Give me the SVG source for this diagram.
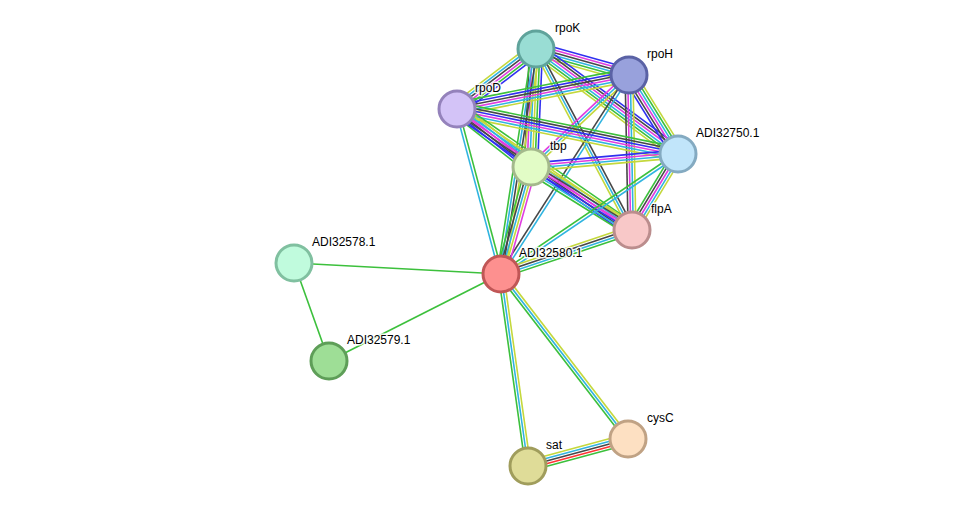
<svg xmlns="http://www.w3.org/2000/svg" width="976" height="512" viewBox="0 0 976 512">
<style>
line{stroke-width:1.6;fill:none}
.g{stroke:#3cc03c}.c{stroke:#30b4e0}.y{stroke:#c4d83c}.k{stroke:#474747}.m{stroke:#e03ce0}.b{stroke:#3030f0}.r{stroke:#ff3333}
.node circle{stroke-width:3}
text{font-family:"Liberation Sans",Arial,sans-serif;font-size:12px;fill:#000;stroke:#fff;stroke-width:3px;stroke-opacity:0.85;paint-order:stroke;stroke-linejoin:round}
</style>
<rect width="976" height="512" fill="#fff"/>
<g id="connectors">
<!-- K-H -->
<g transform="translate(536 49) rotate(15.62)"><line x2="96.6" y1="-6.5" y2="-6.5" class="b"/><line x2="96.6" y1="-3.9" y2="-3.9" class="m"/><line x2="96.6" y1="-1.3" y2="-1.3" class="k"/><line x2="96.6" y1="1.3" y2="1.3" class="c"/><line x2="96.6" y1="3.9" y2="3.9" class="g"/><line x2="96.6" y1="6.5" y2="6.5" class="y"/></g>
<!-- K-D -->
<g transform="translate(536 49) rotate(142.78)"><line x2="99.2" y1="-6.5" y2="-6.5" class="b"/><line x2="99.2" y1="-3.9" y2="-3.9" class="g"/><line x2="99.2" y1="-1.3" y2="-1.3" class="m"/><line x2="99.2" y1="1.3" y2="1.3" class="k"/><line x2="99.2" y1="3.9" y2="3.9" class="c"/><line x2="99.2" y1="6.5" y2="6.5" class="y"/></g>
<!-- K-T -->
<g transform="translate(536 49) rotate(92.43)"><line x2="118.1" y1="-6.5" y2="-6.5" class="b"/><line x2="118.1" y1="-3.9" y2="-3.9" class="g"/><line x2="118.1" y1="-1.3" y2="-1.3" class="y"/><line x2="118.1" y1="1.3" y2="1.3" class="c"/><line x2="118.1" y1="3.9" y2="3.9" class="m"/><line x2="118.1" y1="6.5" y2="6.5" class="k"/></g>
<!-- K-A -->
<g transform="translate(536 49) rotate(36.48)"><line x2="176.6" y1="-6.5" y2="-6.5" class="b"/><line x2="176.6" y1="-3.9" y2="-3.9" class="k"/><line x2="176.6" y1="-1.3" y2="-1.3" class="m"/><line x2="176.6" y1="1.3" y2="1.3" class="c"/><line x2="176.6" y1="3.9" y2="3.9" class="g"/><line x2="176.6" y1="6.5" y2="6.5" class="y"/></g>
<!-- K-F -->
<g transform="translate(536 49) rotate(62.06)"><line x2="204.9" y1="-2.6" y2="-2.6" class="k"/><line x2="204.9" class="c"/><line x2="204.9" y1="2.6" y2="2.6" class="y"/></g>
<!-- K-C -->
<g transform="translate(536 49) rotate(98.84)"><line x2="227.7" y1="-3.9" y2="-3.9" class="y"/><line x2="227.7" y1="-1.3" y2="-1.3" class="k"/><line x2="227.7" y1="1.3" y2="1.3" class="c"/><line x2="227.7" y1="3.9" y2="3.9" class="g"/></g>
<!-- H-D -->
<g transform="translate(629 75) rotate(168.82)"><line x2="175.3" y1="-6.5" y2="-6.5" class="y"/><line x2="175.3" y1="-3.9" y2="-3.9" class="c"/><line x2="175.3" y1="-1.3" y2="-1.3" class="m"/><line x2="175.3" y1="1.3" y2="1.3" class="k"/><line x2="175.3" y1="3.9" y2="3.9" class="b"/><line x2="175.3" y1="6.5" y2="6.5" class="g"/></g>
<!-- H-T -->
<g transform="translate(629 75) rotate(136.81)"><line x2="134.4" y1="-2.6" y2="-2.6" class="y"/><line x2="134.4" class="c"/><line x2="134.4" y1="2.6" y2="2.6" class="m"/></g>
<!-- H-A -->
<g transform="translate(629 75) rotate(58.19)"><line x2="93" y1="-6.5" y2="-6.5" class="y"/><line x2="93" y1="-3.9" y2="-3.9" class="g"/><line x2="93" y1="-1.3" y2="-1.3" class="c"/><line x2="93" y1="1.3" y2="1.3" class="m"/><line x2="93" y1="3.9" y2="3.9" class="k"/><line x2="93" y1="6.5" y2="6.5" class="b"/></g>
<!-- H-F -->
<g transform="translate(629 75) rotate(88.89)"><line x2="155" y1="-3.9" y2="-3.9" class="y"/><line x2="155" y1="-1.3" y2="-1.3" class="c"/><line x2="155" y1="1.3" y2="1.3" class="m"/><line x2="155" y1="3.9" y2="3.9" class="k"/></g>
<!-- H-C -->
<g transform="translate(629 75) rotate(122.75)"><line x2="236.6" y1="-1.5" y2="-1.5" class="c"/><line x2="236.6" y1="1.5" y2="1.5" class="k"/></g>
<!-- D-T -->
<g transform="translate(457 109) rotate(38.09)"><line x2="94" y1="-6.5" y2="-6.5" class="y"/><line x2="94" y1="-3.9" y2="-3.9" class="c"/><line x2="94" y1="-1.3" y2="-1.3" class="m"/><line x2="94" y1="1.3" y2="1.3" class="k"/><line x2="94" y1="3.9" y2="3.9" class="b"/><line x2="94" y1="6.5" y2="6.5" class="g"/></g>
<!-- D-A -->
<g transform="translate(457 109) rotate(11.51)"><line x2="225.5" y1="-6.5" y2="-6.5" class="g"/><line x2="225.5" y1="-3.9" y2="-3.9" class="k"/><line x2="225.5" y1="-1.3" y2="-1.3" class="b"/><line x2="225.5" y1="1.3" y2="1.3" class="m"/><line x2="225.5" y1="3.9" y2="3.9" class="c"/><line x2="225.5" y1="6.5" y2="6.5" class="y"/></g>
<!-- D-F -->
<g transform="translate(457 109) rotate(34.66)"><line x2="212.8" y1="-6.5" y2="-6.5" class="g"/><line x2="212.8" y1="-3.9" y2="-3.9" class="y"/><line x2="212.8" y1="-1.3" y2="-1.3" class="c"/><line x2="212.8" y1="1.3" y2="1.3" class="m"/><line x2="212.8" y1="3.9" y2="3.9" class="k"/><line x2="212.8" y1="6.5" y2="6.5" class="b"/></g>
<!-- D-C -->
<g transform="translate(457 109) rotate(75.07)"><line x2="170.8" y1="-1.5" y2="-1.5" class="g"/><line x2="170.8" y1="1.5" y2="1.5" class="c"/></g>
<!-- T-A -->
<g transform="translate(531 167) rotate(-5.05)"><line x2="147.6" y1="-3.9" y2="-3.9" class="b"/><line x2="147.6" y1="-1.3" y2="-1.3" class="m"/><line x2="147.6" y1="1.3" y2="1.3" class="c"/><line x2="147.6" y1="3.9" y2="3.9" class="y"/></g>
<!-- T-F -->
<g transform="translate(531 167) rotate(31.95)"><line x2="119" y1="-6.5" y2="-6.5" class="y"/><line x2="119" y1="-3.9" y2="-3.9" class="k"/><line x2="119" y1="-1.3" y2="-1.3" class="m"/><line x2="119" y1="1.3" y2="1.3" class="b"/><line x2="119" y1="3.9" y2="3.9" class="c"/><line x2="119" y1="6.5" y2="6.5" class="g"/></g>
<!-- T-C -->
<g transform="translate(531 167) rotate(105.66)"><line x2="111.1" y1="-5.2" y2="-5.2" class="m"/><line x2="111.1" y1="-2.6" y2="-2.6" class="y"/><line x2="111.1" class="c"/><line x2="111.1" y1="2.6" y2="2.6" class="k"/><line x2="111.1" y1="5.2" y2="5.2" class="g"/></g>
<!-- A-F -->
<g transform="translate(678 154) rotate(121.18)"><line x2="88.8" y1="-5.2" y2="-5.2" class="y"/><line x2="88.8" y1="-2.6" y2="-2.6" class="c"/><line x2="88.8" class="m"/><line x2="88.8" y1="2.6" y2="2.6" class="k"/><line x2="88.8" y1="5.2" y2="5.2" class="g"/></g>
<!-- A-C -->
<g transform="translate(678 154) rotate(145.86)"><line x2="213.8" y1="-1.5" y2="-1.5" class="c"/><line x2="213.8" y1="1.5" y2="1.5" class="g"/></g>
<!-- F-C -->
<g transform="translate(632 230) rotate(161.43)"><line x2="138.2" y1="-3.9" y2="-3.9" class="g"/><line x2="138.2" y1="-1.3" y2="-1.3" class="c"/><line x2="138.2" y1="1.3" y2="1.3" class="k"/><line x2="138.2" y1="3.9" y2="3.9" class="y"/></g>
<!-- C-N8, C-N9, N8-N9 -->
<line x1="501" y1="274" x2="294" y2="263" class="g"/>
<line x1="501" y1="274" x2="329" y2="361" class="g"/>
<line x1="294" y1="263" x2="329" y2="361" class="g"/>
<!-- C-S -->
<g transform="translate(501 274) rotate(82)"><line x2="193.9" y1="-2.6" y2="-2.6" class="y"/><line x2="193.9" class="c"/><line x2="193.9" y1="2.6" y2="2.6" class="g"/></g>
<!-- C-Y -->
<g transform="translate(501 274) rotate(52.41)"><line x2="208.2" y1="-2.6" y2="-2.6" class="y"/><line x2="208.2" class="c"/><line x2="208.2" y1="2.6" y2="2.6" class="g"/></g>
<!-- S-Y -->
<g transform="translate(528 466) rotate(-15.11)"><line x2="103.6" y1="-5.2" y2="-5.2" class="y"/><line x2="103.6" y1="-2.6" y2="-2.6" class="c"/><line x2="103.6" class="k"/><line x2="103.6" y1="2.6" y2="2.6" class="r"/><line x2="103.6" y1="5.2" y2="5.2" class="g"/></g>
</g>
<g id="rpoK" class="node"><circle cx="536" cy="49" r="18" fill="#99ddd4" stroke="#5fa39b"/><text x="555" y="32">rpoK</text></g>
<g id="rpoH" class="node"><circle cx="629" cy="75" r="18" fill="#98a1dc" stroke="#5a62a5"/><text x="647" y="58">rpoH</text></g>
<g id="rpoD" class="node"><circle cx="457" cy="109" r="18" fill="#d3c3f7" stroke="#9482bb"/><text x="475" y="92">rpoD</text></g>
<g id="tbp" class="node"><circle cx="531" cy="167" r="18" fill="#e2fcc6" stroke="#a4b98c"/><text x="550" y="150">tbp</text></g>
<g id="ADI32750.1" class="node"><circle cx="678" cy="154" r="18" fill="#c1e5fa" stroke="#84aac1"/><text x="696" y="137">ADI32750.1</text></g>
<g id="flpA" class="node"><circle cx="632" cy="230" r="18" fill="#f8c8c8" stroke="#bb8d8d"/><text x="651" y="213">flpA</text></g>
<g id="ADI32580.1" class="node"><circle cx="501" cy="274" r="18" fill="#fd908f" stroke="#c05656"/><text x="519" y="257">ADI32580.1</text></g>
<g id="ADI32578.1" class="node"><circle cx="294" cy="263" r="18" fill="#c0fbdd" stroke="#80c0a0"/><text x="312" y="246">ADI32578.1</text></g>
<g id="ADI32579.1" class="node"><circle cx="329" cy="361" r="18" fill="#9ede96" stroke="#5e9e58"/><text x="347" y="344">ADI32579.1</text></g>
<g id="sat" class="node"><circle cx="528" cy="466" r="18" fill="#dfdc98" stroke="#a09d5c"/><text x="546" y="449">sat</text></g>
<g id="cysC" class="node"><circle cx="628" cy="439" r="18" fill="#fde0c2" stroke="#c0a284"/><text x="647" y="422">cysC</text></g>
</svg>
